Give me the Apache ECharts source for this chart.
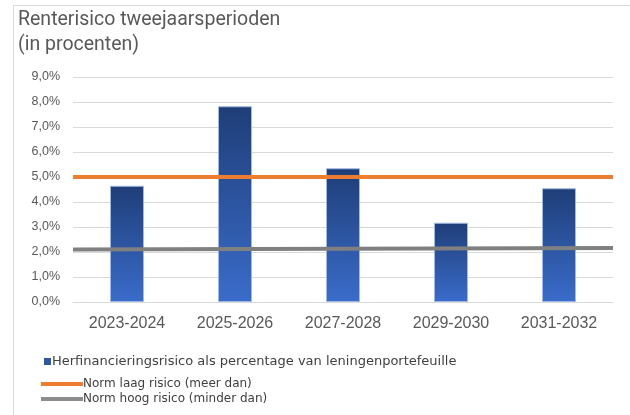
<!DOCTYPE html>
<html>
<head>
<meta charset="utf-8">
<script src="https://cdn.jsdelivr.net/npm/echarts@6/dist/echarts.min.js"></script>
<style>
  html, body { margin: 0; padding: 0; background: #fff; }
  #main { width: 630px; height: 415px; }
</style>
</head>
<body>
<div id="main"></div>
<script>
// data
const periods = ['2023-2024', '2025-2026', '2027-2028', '2029-2030', '2031-2032'];
const herfinanciering = [4.65, 7.83, 5.35, 3.17, 4.55];
const lineEnds = ['start', 'end'];
const normLaag = [5.0, 5.0];
const normHoog = [2.1, 2.16];

const chart = echarts.init(document.getElementById('main'));

const legendText = {
  fontFamily: 'DejaVu Sans',
  fontSize: 12,
  color: '#404040'
};

const option = {
  backgroundColor: '#fff',
  animation: false,
  title: {
    text: 'Renterisico tweejaarsperioden\n(in procenten)',
    left: 13,
    top: 3,
    textStyle: {
      fontFamily: 'Roboto',
      fontSize: 19.5,
      fontWeight: 'normal',
      color: '#595959',
      lineHeight: 25
    }
  },
  // rand om de grafiek
  graphic: [{
    type: 'polyline',
    shape: { points: [[13.5, 415], [13.5, 5.5], [630, 5.5]] },
    style: { stroke: '#d9d9d9', lineWidth: 1, fill: null },
    silent: true
  }],
  legend: [
    {
      left: 39,
      top: 350,
      itemWidth: 7,
      itemHeight: 7,
      itemGap: 0,
      textStyle: Object.assign({}, legendText, { fontSize: 13, padding: [0, 0, 0, -4] }),
      data: [{
        name: 'Herfinancieringsrisico als percentage van leningenportefeuille',
        icon: 'rect',
        itemStyle: { color: '#2f57a8', borderWidth: 0 }
      }]
    },
    {
      orient: 'vertical',
      left: 36,
      top: 373,
      itemGap: 3,
      itemWidth: 42,
      itemHeight: 4,
      textStyle: Object.assign({}, legendText, { padding: [0, 0, 0, -5] }),
      data: [
        { name: 'Norm laag risico (meer dan)', icon: 'rect' },
        { name: 'Norm hoog risico (minder dan)', icon: 'rect' }
      ]
    }
  ],
  grid: {
    left: 73,
    right: 17,
    top: 77,
    bottom: 113,
    containLabel: false
  },
  xAxis: [
    {
      type: 'category',
      data: periods,
      axisLine: { show: true, lineStyle: { color: '#d9d9d9' } },
      axisTick: { show: false },
      axisLabel: {
        fontFamily: 'Liberation Sans',
        fontSize: 16,
        color: '#595959',
        margin: 14
      }
    },
    {
      type: 'category',
      data: lineEnds,
      boundaryGap: false,
      show: false
    }
  ],
  yAxis: {
    type: 'value',
    min: 0,
    max: 9,
    interval: 1,
    axisLine: { show: false },
    axisTick: { show: false },
    splitLine: { lineStyle: { color: '#d9d9d9' } },
    axisLabel: {
      fontFamily: 'Liberation Sans',
      fontSize: 12.5,
      color: '#595959',
      margin: 13,
      formatter: v => v.toFixed(1).replace('.', ',') + '%'
    }
  },
  series: [
    {
      name: 'Herfinancieringsrisico als percentage van leningenportefeuille',
      type: 'bar',
      data: herfinanciering,
      barWidth: 34,
      itemStyle: {
        color: new echarts.graphic.LinearGradient(0, 0, 0, 1, [
          { offset: 0, color: '#1f3e78' },
          { offset: 1, color: '#3a6cca' }
        ]),
        borderColor: '#9fb8e6',
        borderWidth: 1
      }
    },
    {
      name: 'Norm laag risico (meer dan)',
      type: 'line',
      xAxisIndex: 1,
      data: normLaag,
      symbol: 'none',
      lineStyle: { color: '#ed7d31', width: 4 },
      itemStyle: { color: '#ed7d31' }
    },
    {
      name: 'Norm hoog risico (minder dan)',
      type: 'line',
      xAxisIndex: 1,
      data: normHoog,
      symbol: 'none',
      lineStyle: { color: '#808080', width: 4 },
      itemStyle: { color: '#8c8c8c' }
    }
  ]
};

chart.setOption(option);
</script>
</body>
</html>
